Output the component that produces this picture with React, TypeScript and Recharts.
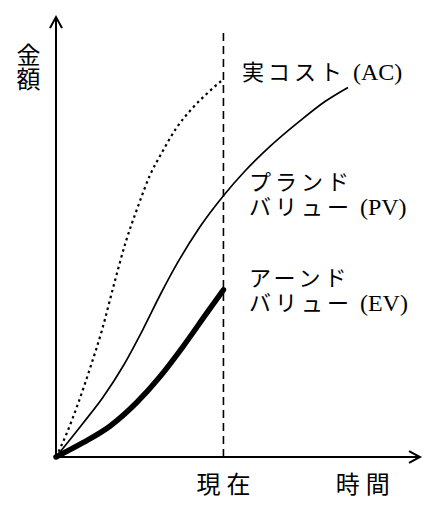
import React from 'react';
import { LineChart, Line, XAxis, YAxis, ReferenceLine, ReferenceDot } from 'recharts';

// 時間軸: 0〜100 (矢印の先が100)、金額軸: 0〜100
const NOW = 46;

// 実コスト (AC) — 点線
const acPoints = [
  { x: 0, y: 0 },
  { x: 2.75, y: 5.0 },
  { x: 6.04, y: 12.09 },
  { x: 9.34, y: 20.14 },
  { x: 12.64, y: 28.86 },
  { x: 15.93, y: 39.23 },
  { x: 19.23, y: 49.05 },
  { x: 22.53, y: 56.95 },
  { x: 25.82, y: 64.05 },
  { x: 29.12, y: 69.23 },
  { x: 32.97, y: 74.64 },
  { x: 37.36, y: 79.18 },
  { x: 41.76, y: 82.82 },
  { x: 46, y: 85.9 },
];

// プランドバリュー (PV) — 細い実線
const pvPoints = [
  { x: 0, y: 0 },
  { x: 7.42, y: 7.67 },
  { x: 12.91, y: 13.58 },
  { x: 18.41, y: 20.63 },
  { x: 23.9, y: 29.03 },
  { x: 28.57, y: 36.76 },
  { x: 33.52, y: 44.33 },
  { x: 39.56, y: 52.33 },
  { x: 46, y: 59.39 },
  { x: 51.92, y: 65.0 },
  { x: 58.79, y: 70.6 },
  { x: 67.03, y: 76.4 },
  { x: 73.9, y: 80.8 },
  { x: 80.22, y: 84.0 },
];

// アーンドバリュー (EV) — 太線
const evPoints = [
  { x: 0, y: 0 },
  { x: 7.4, y: 3.25 },
  { x: 14.8, y: 7.0 },
  { x: 22.3, y: 12.5 },
  { x: 28.6, y: 18.3 },
  { x: 34.9, y: 25.1 },
  { x: 41.5, y: 32.8 },
  { x: 46, y: 38.0 },
];

const CJK = '"Noto Sans CJK JP", sans-serif';
const SERIF = '"Liberation Serif", serif';

// 曲線の注記 (データ座標、1行目のベースライン)
type Row = { jp: string; en?: string };
type Note = { x: number; y: number; rows: Row[] };
const curveNotes: Note[] = [
  { x: 51.1, y: 85.7, rows: [{ jp: '実コスト', en: '(AC)' }] },
  { x: 53.0, y: 60.7, rows: [{ jp: 'プランド' }, { jp: 'バリュー', en: '(PV)' }] },
  { x: 53.0, y: 38.9, rows: [{ jp: 'アーンド' }, { jp: 'バリュー', en: '(EV)' }] },
];

// 軸ラベル
const xLabels = [
  { x: NOW, y: -8.2, text: '現在' },
  { x: 84.3, y: -8.2, text: '時間' },
];
const yLabel = { x: -7.55, y: 94.1, text: '金額' };

function ArrowLine(props: any) {
  const { x1, y1, x2, y2 } = props;
  const a = Math.atan2(y2 - y1, x2 - x1);
  const len = 12.5;
  const spread = 0.5;
  const p1 = { x: x2 - len * Math.cos(a - spread), y: y2 - len * Math.sin(a - spread) };
  const p2 = { x: x2 - len * Math.cos(a + spread), y: y2 - len * Math.sin(a + spread) };
  return (
    <g>
      <line x1={x1} y1={y1} x2={x2} y2={y2} stroke="#000" strokeWidth={2} />
      <polyline
        points={`${p1.x},${p1.y} ${x2},${y2} ${p2.x},${p2.y}`}
        fill="none"
        stroke="#000"
        strokeWidth={2}
      />
    </g>
  );
}

function curveNoteShape(n: Note) {
  return (props: any) => (
    <text x={props.cx} y={props.cy} fill="#000" fontSize={22}>
      {n.rows.map((r, i) => (
        <React.Fragment key={i}>
          <tspan x={props.cx} dy={i === 0 ? 0 : 25} fontFamily={CJK} letterSpacing={4}>
            {r.jp}
          </tspan>
          {r.en && (
            <tspan fontFamily={SERIF} fontSize={24} dx={7}>
              {r.en}
            </tspan>
          )}
        </React.Fragment>
      ))}
    </text>
  );
}

function xLabelShape(text: string) {
  return (props: any) => (
    <text
      x={props.cx}
      y={props.cy}
      textAnchor="middle"
      fontFamily={CJK}
      fontSize={24}
      letterSpacing={6}
      fill="#000"
    >
      <tspan dx={3}>{text}</tspan>
    </text>
  );
}

function yLabelShape(props: any) {
  return (
    <text
      x={props.cx}
      y={props.cy}
      fontFamily={CJK}
      fontSize={24}
      fill="#000"
      style={{ writingMode: 'vertical-rl' }}
    >
      {yLabel.text}
    </text>
  );
}

export default function App() {
  return (
    <LineChart width={422} height={495} margin={{ top: 9, right: 10, bottom: 46, left: 48 }}>
      <XAxis type="number" dataKey="x" domain={[0, 100]} hide />
      <YAxis type="number" dataKey="y" domain={[0, 100]} hide />

      <ReferenceLine
        segment={[{ x: NOW, y: 0 }, { x: NOW, y: 96.6 }]}
        stroke="#000"
        strokeWidth={1.6}
        strokeDasharray="8 5"
        ifOverflow="visible"
      />

      <Line
        data={acPoints}
        dataKey="y"
        type="monotone"
        stroke="#000"
        strokeWidth={2.2}
        strokeDasharray="2.5 3.5"
        dot={false}
        activeDot={false}
        isAnimationActive={false}
      />
      <Line
        data={pvPoints}
        dataKey="y"
        type="monotone"
        stroke="#000"
        strokeWidth={1.7}
        dot={false}
        activeDot={false}
        isAnimationActive={false}
      />
      <Line
        data={evPoints}
        dataKey="y"
        type="monotone"
        stroke="#000"
        strokeWidth={5.5}
        strokeLinecap="round"
        dot={false}
        activeDot={false}
        isAnimationActive={false}
      />

      <ReferenceLine
        segment={[{ x: 0, y: 0 }, { x: 0, y: 100 }]}
        shape={ArrowLine}
        ifOverflow="visible"
      />
      <ReferenceLine
        segment={[{ x: 0, y: 0 }, { x: 100, y: 0 }]}
        shape={ArrowLine}
        ifOverflow="visible"
      />

      {curveNotes.map((n, i) => (
        <ReferenceDot key={`c${i}`} x={n.x} y={n.y} r={0} ifOverflow="visible" shape={curveNoteShape(n)} />
      ))}
      {xLabels.map((l, i) => (
        <ReferenceDot key={`x${i}`} x={l.x} y={l.y} r={0} ifOverflow="visible" shape={xLabelShape(l.text)} />
      ))}
      <ReferenceDot x={yLabel.x} y={yLabel.y} r={0} ifOverflow="visible" shape={yLabelShape} />
    </LineChart>
  );
}
